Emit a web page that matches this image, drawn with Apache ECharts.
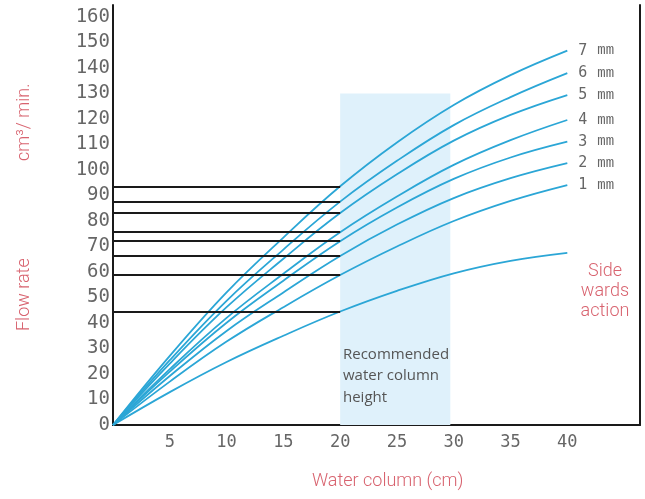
<!DOCTYPE html>
<html>
<head>
<meta charset="utf-8">
<style>html,body{margin:0;padding:0;background:#fff}#c{width:645px;height:499px}</style>
<script src="https://cdn.jsdelivr.net/npm/echarts@6/dist/echarts.min.js"></script>
</head>
<body>
<div id="c"></div>
<script>
// Water column (cm)
const xs = [0, 5, 10, 15, 20, 25, 30, 35, 40];
// Flow rate (cm3/min) per nozzle
const mm7 = [0, 27.1, 52.0, 73.5, 93.6, 110.8, 125.5, 137.2, 146.8];
const mm6 = [0, 25.4, 48.7, 68.8, 87.6, 103.6, 117.6, 128.6, 138.0];
const mm5 = [0, 24.1, 46.2, 65.2, 83.1, 98.3, 111.5, 121.6, 129.4];
const mm4 = [0, 21.9, 42.0, 59.3, 75.6, 89.6, 102.0, 111.7, 119.6];
const mm3 = [0, 20.9, 40.1, 56.6, 72.1, 85.3, 96.5, 104.9, 111.1];
const mm2 = [0, 19.2, 36.9, 52.0, 66.3, 78.6, 89.0, 96.8, 102.7];
const mm1 = [0, 17.0, 32.7, 46.2, 58.8, 70.0, 80.0, 87.9, 94.1];
const side = [0, 12.9, 24.7, 35.0, 44.5, 52.6, 59.5, 64.4, 67.5];
const curveNames = ['7', '6', '5', '4', '3', '2', '1'];
const curveValues = [mm7, mm6, mm5, mm4, mm3, mm2, mm1];
const recommended = [20, 29.7];
const recommendedTop = 130;
const refX = 20;

const blue = '#2ba6d6';
const pink = '#d8636f';

function pairs(vals) { return xs.map((x, i) => [x, vals[i]]); }
function refLine(vals) {
  const v = vals[xs.indexOf(refX)];
  return {
    silent: true, symbol: 'none', label: { show: false },
    lineStyle: { color: '#1a1a1a', width: 2, type: 'solid' },
    data: [[{ coord: [0, v] }, { coord: [refX, v] }]]
  };
}

const series = curveValues.map((vals, i) => ({
  name: curveNames[i] + ' mm',
  type: 'line', smooth: 0.4, showSymbol: false, z: 3,
  data: pairs(vals),
  lineStyle: { color: blue, width: 1.8 },
  endLabel: {
    show: true, distance: 11,
    formatter: () => '{n|' + curveNames[i] + '}   {u|mm}',
    rich: {
      n: { fontFamily: 'DejaVu Sans Mono', fontSize: 15, color: '#666' },
      u: { fontFamily: 'Liberation Mono', fontSize: 14, color: '#666' }
    }
  },
  markLine: refLine(vals)
}));
series.push({
  name: 'Side wards action',
  type: 'line', smooth: 0.4, showSymbol: false, z: 3,
  data: pairs(side),
  lineStyle: { color: blue, width: 1.8 },
  markLine: refLine(side),
  markArea: {
    silent: true,
    itemStyle: { color: '#dff1fb' },
    data: [[{ coord: [recommended[0], 0] }, { coord: [recommended[1], recommendedTop] }]]
  }
});

const chart = echarts.init(document.getElementById('c'));
chart.setOption({
  animation: false,
  grid: { left: 113, right: 5, top: 5, bottom: 74 },
  xAxis: {
    type: 'value', min: 0, max: 46.4, interval: 5,
    axisLine: { show: true, lineStyle: { color: '#1a1a1a', width: 2 } },
    axisTick: { show: false }, splitLine: { show: false },
    axisLabel: {
      margin: 9, color: '#666', fontFamily: 'DejaVu Sans Mono', fontSize: 17,
      formatter: v => (v === 0 || v > 40) ? '' : String(v)
    }
  },
  yAxis: [{
    type: 'value', min: 0, max: 164.7, interval: 10,
    axisLine: { show: true, lineStyle: { color: '#1a1a1a', width: 2 } },
    axisTick: { show: false }, splitLine: { show: false },
    axisLabel: {
      margin: 3, color: '#666', fontFamily: 'DejaVu Sans Mono', fontSize: 19,
      formatter: v => v > 160 ? '' : String(v)
    }
  }, {
    type: 'value', min: 0, max: 164.7, position: 'right',
    axisLine: { show: true, lineStyle: { color: '#1a1a1a', width: 2 } },
    axisTick: { show: false }, splitLine: { show: false }, axisLabel: { show: false }
  }],
  series: series,
  graphic: [
    { type: 'text', z: 20, left: 312, top: 472, style: { text: 'Water column (cm)', fill: pink, font: '300 18px Roboto' } },
    { type: 'text', z: 20, x: 15, y: 331, rotation: Math.PI / 2, style: { text: 'Flow rate', fill: pink, font: '300 18px Roboto' } },
    { type: 'text', z: 20, x: 15, y: 161, rotation: Math.PI / 2, style: { text: 'cm³/ min.', fill: pink, font: '300 18px Roboto' } },
    { type: 'text', z: 20, x: 605, y: 291, style: { text: 'Side\nwards\naction', fill: pink, font: '300 18px Roboto', align: 'center', verticalAlign: 'middle', lineHeight: 20 } },
    { type: 'text', z: 20, x: 343, y: 376, style: { text: 'Recommended\nwater column\nheight', fill: '#555', font: '15px "Open Sans"', verticalAlign: 'middle', lineHeight: 21.5 } }
  ]
});
</script>
</body>
</html>
